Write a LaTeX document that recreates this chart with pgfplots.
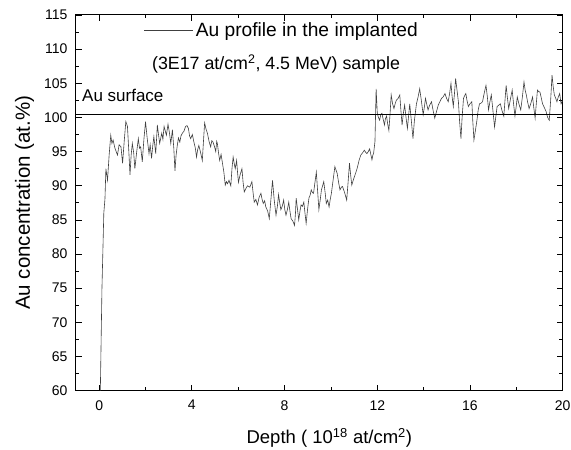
\documentclass[border=0pt]{standalone}
\usepackage{pgfplots}
\pgfplotsset{compat=1.18}
\usepackage{fontspec}
\setmainfont{Liberation Sans}
\begin{document}
\begin{tikzpicture}
\begin{axis}[
  name=ax,
  scale only axis,
  width=486.7pt, height=375.7pt,
  xmin=-1, xmax=20, ymin=60, ymax=115,
  xtick={0,4,8,12,16,20},
  minor xtick={2,6,10,14,18},
  ytick={60,65,...,115},
  minor ytick={62.5,67.5,...,112.5},
  tick align=inside,
  major tick length=6pt, minor tick length=3.5pt,
  tick style={black, line width=0.8pt},
  axis line style={line width=1pt},
  /pgf/number format/assume math mode=true,
  ticklabel style={font=\fontsize{14}{16}\selectfont},
  xticklabel style={yshift=-6pt},
  yticklabel style={xshift=-5pt},
  xlabel={Depth ( 10\textsuperscript{18} at/cm\textsuperscript{2})},
  ylabel={Au concentration (at.\%)},
  xlabel style={font=\fontsize{18.5}{22}\selectfont, yshift=-11pt, xshift=10pt},
  ylabel style={font=\fontsize{20.5}{24}\selectfont, yshift=3pt},
  legend style={draw=none, fill=none, at={(0.1397,0.958)}, anchor=west,
    font=\fontsize{19.2}{22}\selectfont, inner sep=0pt},
  legend image code/.code={\draw[#1] (0pt,0pt) -- (49pt,0pt);},
  clip=true,
]
\addplot[black!75, line width=0.6pt] coordinates {
(0.05,60) (0.12,75) (0.2,86) (0.25,88.1) (0.29,92.5) (0.36,90.8) (0.43,94.5)
(0.5,97.4) (0.55,96.2) (0.6,96.7) (0.68,95.5) (0.79,94.5) (0.86,96.0) (0.94,95.7)
(1.01,93.3) (1.08,96.5) (1.15,99.4) (1.22,98.7) (1.28,95.0) (1.33,91.6) (1.38,94.5)
(1.43,96.2) (1.49,94.8) (1.54,92.5) (1.62,95.0) (1.69,96.9) (1.74,95.5) (1.79,95.7)
(1.86,93.5) (1.93,96.8) (2.0,99.4) (2.07,97.0) (2.15,94.7) (2.2,96.0) (2.26,94.0)
(2.31,95.8) (2.36,97.2) (2.44,94.7) (2.51,98.9) (2.56,97.5) (2.61,96.2) (2.7,97.7)
(2.75,96.8) (2.8,98.7) (2.9,97.4) (2.97,99.0) (3.03,97.8) (3.09,96.2) (3.16,98.2)
(3.22,95.5) (3.27,92.2) (3.32,94.5) (3.37,95.9) (3.42,97.0) (3.48,96.4) (3.53,97.3)
(3.59,97.7) (3.66,98.0) (3.73,98.7) (3.79,98.8) (3.85,98.4) (3.9,97.3) (3.95,96.9)
(4.02,97.5) (4.1,96.2) (4.15,95.5) (4.2,94.2) (4.25,95.3) (4.3,95.9) (4.38,94.8)
(4.45,93.7) (4.5,96.5) (4.55,99.2) (4.61,98.3) (4.67,97.7) (4.74,96.5) (4.81,95.7)
(4.86,96.6) (4.91,96.4) (4.97,95.8) (5.03,95.0) (5.07,96.5) (5.1,96.2) (5.15,94.8)
(5.2,93.7) (5.26,94.6) (5.32,93.3) (5.38,92.0) (5.44,90.1) (5.49,90.6) (5.54,90.3)
(5.6,90.8) (5.68,90.0) (5.73,92.5) (5.78,94.2) (5.83,93.2) (5.87,92.5) (5.93,93.7)
(5.97,92.0) (6.01,90.5) (6.08,91.6) (6.16,92.5) (6.21,90.5) (6.26,89.1) (6.33,89.6)
(6.4,90.0) (6.5,89.8) (6.59,90.6) (6.64,89.0) (6.69,87.6) (6.76,88.0) (6.83,87.2)
(6.9,88.3) (6.98,88.9) (7.03,88.0) (7.08,87.4) (7.14,87.8) (7.19,86.9) (7.27,86.3)
(7.34,85.2) (7.41,88.0) (7.48,90.8) (7.55,88.0) (7.63,85.7) (7.69,87.0) (7.74,88.7)
(7.79,87.5) (7.84,86.5) (7.9,87.0) (7.96,87.9) (8.01,86.5) (8.06,85.7) (8.12,86.5)
(8.18,87.6) (8.23,86.3) (8.28,85.2) (8.36,84.8) (8.43,84.2) (8.47,86.0) (8.5,88.2)
(8.56,86.5) (8.61,85.0) (8.66,86.2) (8.71,87.2) (8.77,87.0) (8.83,87.6) (8.88,86.0)
(8.93,84.5) (8.99,86.5) (9.05,88.2) (9.1,88.6) (9.15,89.4) (9.2,89.0) (9.25,88.9)
(9.31,90.5) (9.37,92.0) (9.43,89.0) (9.48,86.5) (9.54,88.0) (9.59,89.4) (9.64,90.0)
(9.69,90.6) (9.75,89.0) (9.8,87.4) (9.86,87.9) (9.92,86.9) (9.97,88.0) (10.02,88.9)
(10.1,91.0) (10.17,92.8) (10.22,92.3) (10.27,91.8) (10.33,90.5) (10.39,89.4) (10.45,89.8)
(10.5,89.9) (10.59,89.0) (10.68,87.9) (10.74,90.5) (10.8,93.3) (10.85,91.6) (10.9,90.1)
(10.97,90.9) (11.04,91.6) (11.1,92.2) (11.15,92.8) (11.22,93.8) (11.29,94.5) (11.36,94.8)
(11.44,95.2) (11.5,94.9) (11.55,94.7) (11.61,95.0) (11.67,95.4) (11.72,94.6) (11.77,93.8)
(11.81,94.5) (11.84,94.7) (11.9,96.5) (11.95,104.2) (12.0,100.6) (12.05,100.0) (12.1,99.6)
(12.15,100.4) (12.2,100.6) (12.25,99.8) (12.31,98.9) (12.35,99.8) (12.4,100.2) (12.45,99.0)
(12.5,98.1) (12.55,100.5) (12.6,103.3) (12.66,102.0) (12.72,101.3) (12.77,102.0) (12.82,102.5)
(12.9,102.8) (12.97,103.3) (13.02,101.0) (13.07,98.9) (13.12,100.5) (13.18,101.8) (13.24,100.0)
(13.3,98.4) (13.35,100.2) (13.4,102.0) (13.47,99.5) (13.54,96.9) (13.6,99.5) (13.69,102.0)
(13.76,103.0) (13.83,104.2) (13.9,102.5) (13.98,100.4) (14.03,101.5) (14.08,102.8) (14.13,102.0)
(14.19,101.1) (14.26,101.8) (14.34,102.3) (14.41,101.0) (14.48,99.9) (14.55,100.8) (14.63,101.8)
(14.7,102.3) (14.77,102.8) (14.84,103.0) (14.92,103.5) (14.99,102.8) (15.06,102.3) (15.12,103.5)
(15.18,105.0) (15.23,103.0) (15.28,101.6) (15.33,103.5) (15.38,105.7) (15.44,104.0) (15.5,102.3)
(15.55,99.5) (15.61,96.9) (15.66,100.0) (15.72,102.8) (15.77,103.2) (15.82,103.5) (15.87,102.5)
(15.93,101.6) (16.0,102.0) (16.08,102.3) (16.12,99.5) (16.17,96.7) (16.23,98.0) (16.3,99.6)
(16.35,101.0) (16.41,102.0) (16.48,102.1) (16.54,102.3) (16.61,103.5) (16.69,104.7) (16.75,103.0)
(16.8,101.1) (16.86,102.3) (16.92,103.3) (16.99,101.0) (17.06,98.6) (17.11,100.0) (17.17,101.6)
(17.24,101.8) (17.31,102.0) (17.38,101.0) (17.46,100.2) (17.51,102.5) (17.56,104.7) (17.61,103.0)
(17.67,101.3) (17.74,102.6) (17.82,104.0) (17.88,102.0) (17.94,100.2) (17.99,101.5) (18.04,103.0)
(18.11,102.0) (18.19,101.1) (18.26,103.0) (18.33,105.2) (18.38,104.0) (18.43,103.3) (18.49,102.2)
(18.55,101.3) (18.62,102.0) (18.7,103.0) (18.75,101.5) (18.81,99.9) (18.86,102.0) (18.91,104.0)
(18.96,103.8) (19.02,103.7) (19.08,102.8) (19.13,102.0) (19.2,101.5) (19.28,100.9) (19.35,100.0)
(19.42,99.6) (19.48,102.5) (19.54,106.2) (19.59,104.5) (19.64,103.3) (19.7,102.8) (19.75,102.3)
(19.81,103.0) (19.87,103.5) (19.93,102.0) (20.0,102.5)
};
\addlegendentry{Au profile in the implanted}
\addplot[black, line width=0.8pt, forget plot] coordinates {(-1,100.5) (20,100.5)};
\node[anchor=base west, font=\fontsize{17.8}{22}\selectfont, inner sep=0pt]
  at (axis description cs:0.156,0.8536) {(3E17 at/cm\textsuperscript{2}, 4.5 MeV) sample};
\node[anchor=base west, font=\fontsize{17}{20}\selectfont, inner sep=0pt]
  at (axis description cs:0.0123,0.769) {Au surface};
\end{axis}
\pgfresetboundingbox
\useasboundingbox ([shift={(-76pt,-59.3pt)}]ax.south west) rectangle ([shift={(8.3pt,15pt)}]ax.north east);
\end{tikzpicture}
\end{document}
